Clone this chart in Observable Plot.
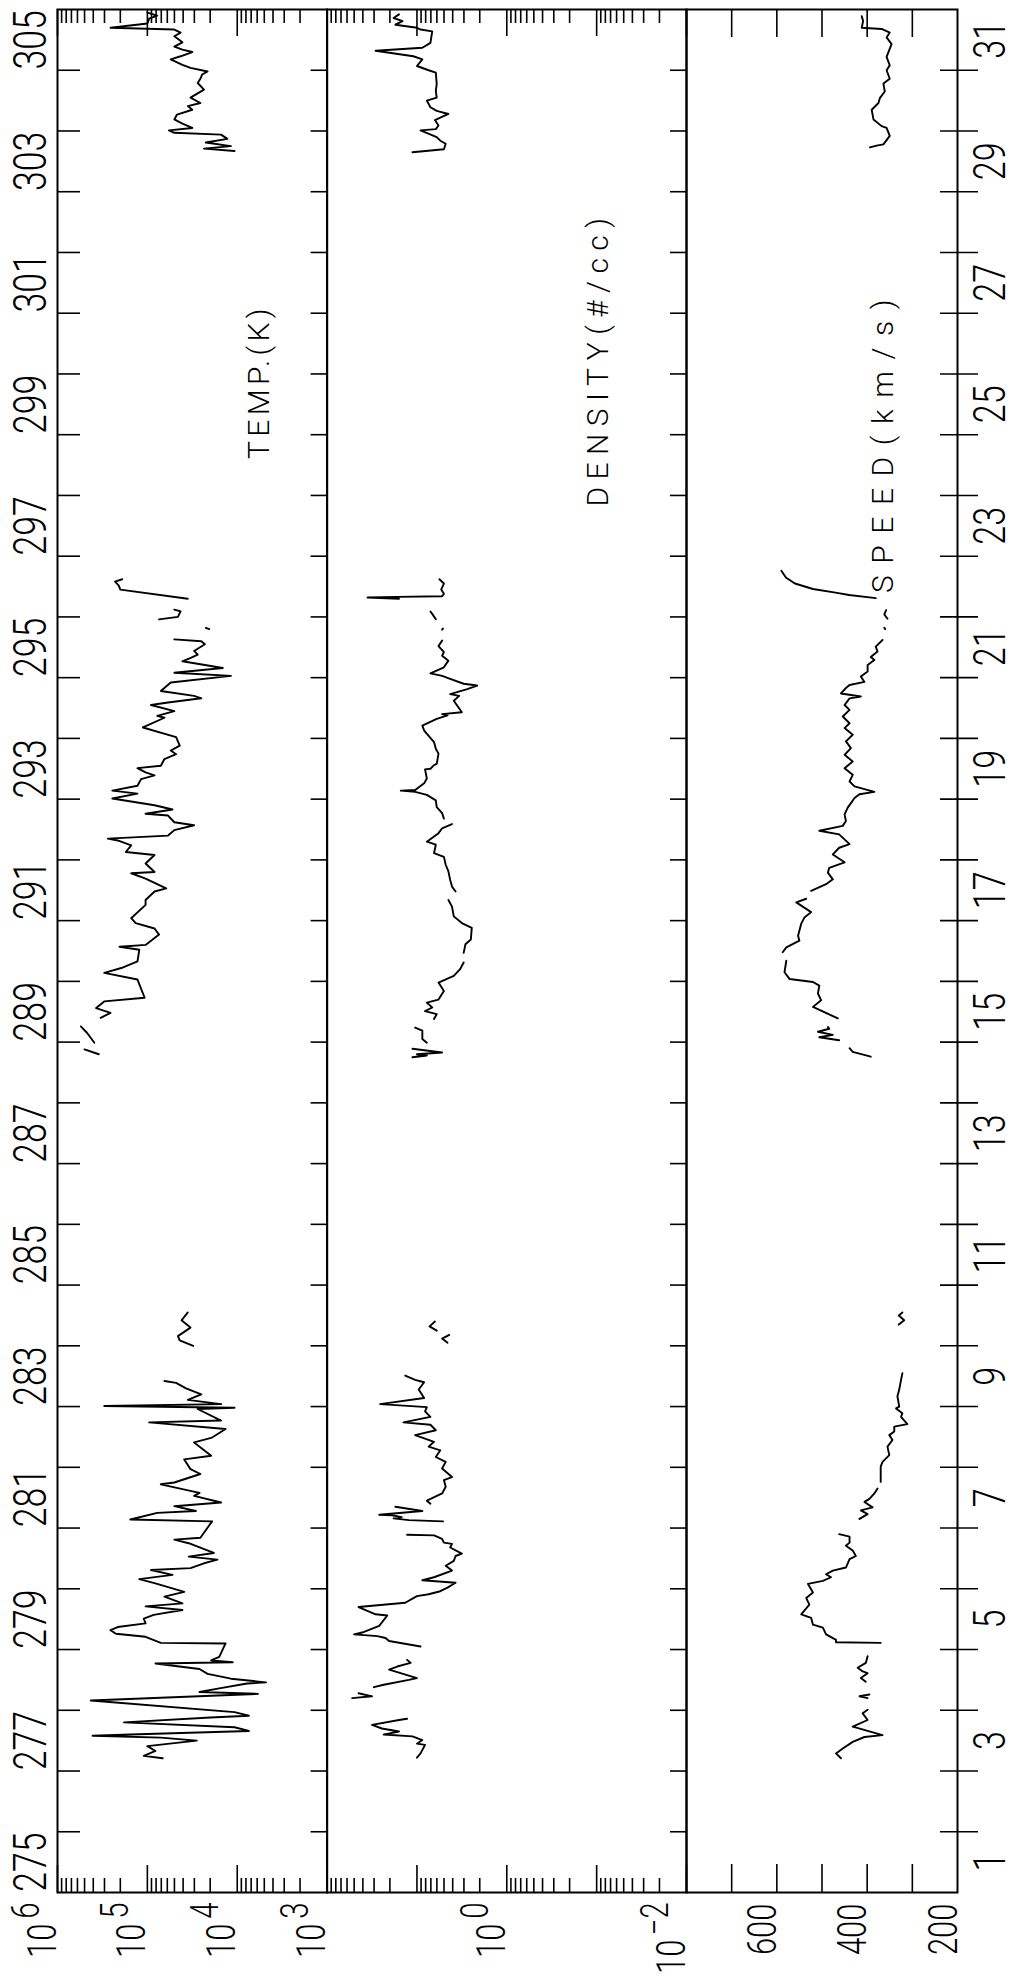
<!DOCTYPE html>
<html><head><meta charset="utf-8">
<script src="https://cdn.jsdelivr.net/npm/d3@7"></script>
<script src="https://cdn.jsdelivr.net/npm/@observablehq/plot@0.6"></script>
<style>
body{margin:0;background:#fff;}
#chart{position:relative;width:1017px;height:1978px;overflow:hidden;background:#fff;}
#chart svg{position:absolute;left:0;top:0;}
</style></head><body><div id="chart"></div>
<script>
// ---- tick & label arrays ----
const dayTicks = d3.range(276, 306);
const dayLabels = [275,277,279,281,283,285,287,289,291,293,295,297,299,301,303,305];
const monthDayLabels = [1,3,5,7,9,11,13,15,17,19,21,23,25,27,29,31];
const tempLabelValues = [1e6, 1e5, 1e4, 1e3];
const tempLabelExps = ["6", "5", "4", "3"];
const densLabelValues = [1, 0.01];
const densLabelExps = ["0", "\u22122"];
const speedTicks = [700, 600, 500, 400, 300];
const speedLabelValues = [600, 400, 200];
const panelTitles = ["TEMP.(K)", "DENSITY(#/cc)", "SPEED(km/s)"];

// ---- data: [day of year, value]; null = data gap ----
// temperature as log10(K)
const tempLog10 = [
[277.21,4.83],[277.25,5.04],[277.33,4.91],[277.41,5.00],[277.50,4.45],[277.55,4.85],[277.58,5.61],[277.60,5.19],[277.66,3.87],[277.72,4.03],[277.80,5.26],[277.88,4.30],[277.91,3.87],[277.97,4.03],[278.16,5.63],[278.27,3.77],[278.30,4.42],[278.36,4.20],[278.44,3.89],[278.46,3.68],[278.52,4.07],[278.60,4.33],[278.68,4.42],[278.77,4.91],[278.79,4.05],[278.82,4.29],[278.88,4.20],[279.10,4.13],[279.11,4.85],[279.21,5.02],[279.26,5.35],[279.32,5.41],[279.37,5.33],[279.43,5.02],[279.51,5.04],[279.57,4.93],[279.65,4.61],[279.71,5.02],[279.76,4.61],[279.87,4.81],[279.95,4.59],[280.09,4.91],[280.16,5.09],[280.23,4.72],[280.31,4.96],[280.34,4.52],[280.42,4.37],[280.48,4.22],[280.53,4.54],[280.59,4.26],[280.75,4.54],[280.81,4.70],[280.84,4.41],[281.11,4.28],[281.14,5.19],[281.25,4.89],[281.28,4.46],[281.36,4.70],[281.42,4.18],[281.53,4.48],[281.58,4.42],[281.72,4.85],[281.75,4.70],[281.89,4.41],[281.97,4.52],[282.13,4.59],[282.19,4.29],[282.41,4.48],[282.49,4.28],[282.63,4.13],[282.74,4.98],[282.77,4.18],[282.96,4.44],[282.98,4.03],[283.01,5.48],[283.04,4.18],[283.11,4.55],[283.20,4.40],[283.30,4.57],[283.39,4.68],[283.42,4.81],
null,
[284.00,4.49],[284.09,4.64],[284.16,4.66],[284.30,4.52],[284.42,4.62],[284.55,4.55],
null,
[288.80,5.54],[288.88,5.70],
null,
[288.99,5.59],[289.15,5.67],[289.26,5.74],
null,
[289.40,5.52],[289.48,5.41],[289.56,5.57],[289.67,5.48],[289.73,5.03],[290.03,5.11],[290.14,5.48],[290.22,5.29],[290.33,5.11],[290.52,5.09],[290.57,5.31],[290.60,5.02],[290.77,4.87],[290.87,4.92],[290.96,5.13],[291.04,5.18],[291.26,5.02],[291.34,5.02],[291.48,4.92],[291.53,4.79],[291.69,5.02],[291.78,5.18],[291.80,4.92],[291.94,5.02],[292.08,4.92],[292.13,5.24],[292.24,5.18],[292.32,5.33],[292.35,5.44],[292.40,4.77],[292.49,4.70],[292.57,4.48],[292.62,4.70],[292.73,4.77],[292.76,5.02],[292.83,4.72],[292.90,4.92],[293.01,5.39],[293.09,5.11],[293.14,5.39],[293.22,5.11],[293.33,5.07],[293.39,4.92],[293.44,5.02],[293.51,5.11],[293.55,4.85],[293.66,4.81],[293.74,4.68],[293.80,4.74],[293.88,4.64],[294.02,4.68],[294.18,5.05],[294.34,4.81],[294.37,4.89],[294.45,4.70],[294.55,4.96],[294.59,4.77],[294.66,4.40],[294.70,4.48],[294.78,4.85],[294.92,4.74],[295.03,4.07],[295.08,4.70],[295.16,4.16],[295.27,4.61],[295.33,4.51],[295.38,4.44],[295.44,4.48],[295.55,4.36],[295.60,4.40],[295.63,4.70],
null,
[295.80,4.31],[295.82,4.35],
null,
[295.96,4.87],[296.00,4.66],[296.09,4.63],[296.12,4.70],
null,
[296.30,4.55],[296.45,5.30],[296.52,5.32],[296.58,5.36],[296.62,5.28],
null,
[303.67,4.03],[303.71,4.37],[303.75,4.07],[303.81,4.35],[303.87,4.11],[303.94,4.18],[303.97,4.70],[304.01,4.76],[304.05,4.50],[304.12,4.61],[304.19,4.70],[304.27,4.67],[304.35,4.50],[304.41,4.55],[304.46,4.41],[304.55,4.52],[304.68,4.37],[304.79,4.44],[304.86,4.41],[304.93,4.39],[304.98,4.33],[305.04,4.52],[305.09,4.61],[305.18,4.74],[305.23,4.63],[305.30,4.50],[305.34,4.61],[305.39,4.70],[305.46,4.61],[305.56,4.70],[305.62,4.63],[305.67,4.70],[305.70,5.41],[305.77,5.00],[305.85,4.98],[305.90,4.89],[305.95,5.00]
];

// density as log10(#/cc)
const densLog10 = [
[277.22,1.00],[277.29,0.96],[277.43,0.91],[277.45,1.00],[277.51,0.94],[277.57,1.05],[277.60,1.37],[277.65,1.20],[277.70,1.39],[277.76,1.50],[277.84,1.20],[277.86,1.11],
null,
[278.20,1.72],[278.23,1.50],[278.28,1.65],
null,
[278.38,1.48],[278.42,1.37],[278.50,1.09],[278.53,1.00],[278.67,1.31],[278.72,1.22],[278.78,1.07],[278.83,1.11],
null,
[279.05,0.96],[279.14,1.31],[279.19,1.35],[279.22,1.44],[279.25,1.70],[279.28,1.61],[279.39,1.42],[279.56,1.33],[279.58,1.46],[279.70,1.65],[279.77,1.13],[279.88,1.00],[279.91,0.87],[279.96,0.74],[280.02,0.66],[280.10,0.57],[280.14,0.94],[280.19,0.81],[280.30,0.61],[280.38,0.68],[280.46,0.59],[280.54,0.57],[280.58,0.50],[280.68,0.63],[280.74,0.61],[280.76,0.70],[280.82,0.72],[280.88,0.81],[280.89,1.11],
null,
[281.11,0.71],[281.13,1.09],[281.16,1.26],[281.18,1.17],[281.21,1.28],[281.22,1.42],[281.28,0.94],[281.35,1.24],
null,
[281.40,0.85],[281.45,0.89],[281.57,0.72],[281.68,0.68],[281.79,0.70],[281.84,0.61],[281.98,0.72],[282.09,0.68],[282.17,0.79],[282.28,0.74],[282.34,0.87],[282.42,0.81],[282.53,1.02],[282.61,0.79],[282.70,0.85],[282.74,1.15],[282.83,0.85],[282.92,0.91],[282.99,0.89],[283.04,1.41],[283.14,0.92],[283.28,0.98],[283.40,0.92],[283.44,1.02],[283.51,1.13],
null,
[284.05,0.66],[284.12,0.72],[284.18,0.64],
null,
[284.25,0.78],[284.32,0.86],[284.40,0.80],
null,
[288.75,1.05],[288.78,0.89],[288.80,1.00],[288.83,0.72],[288.89,1.05],
null,
[288.99,0.89],[289.05,0.94],[289.19,0.94],[289.24,1.02],
null,
[289.38,0.81],[289.46,0.78],[289.51,0.91],[289.57,0.83],[289.65,0.89],[289.70,0.76],[289.84,0.70],[289.98,0.76],[290.09,0.59],[290.20,0.52],[290.31,0.48],
null,
[290.47,0.48],[290.61,0.46],[290.69,0.40],[290.88,0.39],[290.96,0.50],[291.07,0.59],[291.23,0.61],[291.34,0.65],
null,
[291.48,0.57],[291.56,0.61],[291.67,0.63],[291.81,0.65],[291.92,0.68],[292.05,0.70],[292.11,0.81],[292.25,0.79],[292.30,0.89],[292.44,0.76],[292.52,0.72],[292.59,0.61],
null,
[292.68,0.70],[292.77,0.72],[292.87,0.78],[292.98,0.79],[293.07,0.89],[293.12,1.02],[293.14,1.18],[293.15,1.02],[293.26,0.92],[293.34,0.89],[293.49,0.91],[293.50,0.85],[293.56,0.81],[293.58,0.78],[293.75,0.76],[293.83,0.79],[293.94,0.81],[294.13,0.92],[294.21,0.94],[294.32,0.78],[294.38,0.66],[294.40,0.72],[294.43,0.50],[294.62,0.59],[294.70,0.53],[294.73,0.63],[294.81,0.44],[294.87,0.33],[294.90,0.48],[294.98,0.63],[295.03,0.72],[295.07,0.85],[295.17,0.70],[295.28,0.65],[295.36,0.72],[295.42,0.70],[295.52,0.76],[295.61,0.72],
null,
[295.79,0.72],[295.81,0.71],
null,
[295.96,0.79],[296.05,0.83],[296.09,0.85],
null,
[296.30,1.20],[296.32,1.55],[296.33,1.22],[296.34,0.72],[296.38,0.70],[296.45,0.73],[296.55,0.70],[296.62,0.75],
null,
[303.65,1.05],[303.70,0.70],[303.79,0.68],[303.84,0.74],[303.90,0.78],[304.01,0.96],[304.03,0.79],[304.09,0.76],[304.18,0.80],[304.28,0.65],[304.33,0.78],[304.39,0.85],[304.50,0.89],[304.55,0.78],[304.66,0.79],[304.77,0.78],[304.96,0.79],[305.00,0.87],[305.07,1.00],[305.18,0.94],[305.23,1.04],[305.32,1.46],[305.37,0.94],[305.45,0.85],[305.64,0.83],[305.67,0.96],[305.70,1.00],[305.75,1.24],[305.81,1.16],[305.86,1.26],[305.92,1.20]
];

// bulk speed, km/s
const speedKms = [
[277.21,458],[277.29,469],[277.37,454],[277.48,432],[277.56,406],[277.59,366],[277.73,432],[277.84,399],[277.95,410],[278.01,399],
null,
[278.20,399],[278.23,417],[278.26,395],
null,
[278.47,403],[278.53,414],[278.61,399],[278.64,410],[278.70,421],[278.78,403],[278.89,399],
null,
[279.11,370],[279.12,469],[279.16,469],[279.25,491],[279.36,498],[279.41,520],[279.52,524],[279.58,546],[279.74,528],[279.85,535],[279.94,520],[280.08,531],[280.13,498],[280.19,480],[280.24,491],[280.30,476],[280.35,447],[280.49,439],[280.54,425],[280.63,432],[280.71,447],[280.76,439],[280.86,439],[280.90,462],
null,
[281.15,417],[281.23,399],[281.29,414],[281.34,388],[281.43,406],[281.48,395],[281.57,384],[281.65,377],
null,
[281.76,370],[282.01,370],[282.09,366],[282.20,351],[282.34,355],[282.45,344],[282.53,351],[282.59,340],[282.67,340],[282.71,311],[282.83,325],[282.89,322],[282.97,336],[283.00,329],[283.17,333],[283.28,329],[283.44,325],[283.55,322],
null,
[284.35,330],[284.42,318],[284.50,330],[284.55,322],
null,
[288.76,392],[288.84,432],[288.90,439],
null,
[289.03,462],[289.08,506],[289.12,476],[289.17,509],[289.22,484],[289.25,487],
null,
[289.39,465],[289.58,520],[289.69,502],[289.80,509],[289.93,506],[289.99,520],[290.04,572],[290.15,583],[290.34,579],
null,
[290.48,587],[290.56,579],[290.67,550],[290.75,553],[290.95,546],[291.05,539],[291.14,524],[291.30,557],[291.36,535],
null,
[291.49,524],[291.60,491],[291.68,476],[291.79,487],[291.87,484],[291.96,450],[292.09,476],[292.20,462],[292.26,439],[292.42,462],[292.48,506],[292.56,454],[292.64,447],[292.75,450],[292.86,443],[293.02,428],[293.08,417],[293.12,384],[293.21,428],[293.29,439],[293.40,432],[293.51,450],[293.62,432],[293.73,450],[293.84,436],[293.95,447],[294.06,432],[294.17,450],[294.25,439],[294.36,454],[294.47,439],[294.55,450],[294.66,439],[294.69,414],[294.74,458],[294.83,447],[294.88,439],[294.93,406],[295.02,414],[295.10,399],[295.21,399],[295.29,384],[295.34,392],[295.43,377],[295.51,381],[295.62,366],
null,
[295.80,360],[295.82,362],
null,
[295.97,355],[296.04,362],[296.11,358],
null,
[296.31,381],[296.36,440],[296.40,470],[296.46,520],[296.55,560],[296.65,580],[296.76,590],
null,
[303.73,394],[303.76,379],[303.78,364],[303.92,350],[304.05,357],[304.08,368],[304.19,386],[304.35,390],[304.46,375],[304.54,372],[304.65,361],[304.78,364],[304.86,350],[305.00,357],[305.08,350],[305.22,357],[305.43,346],[305.54,357],[305.62,350],[305.68,368],[305.70,412],[305.81,409],[305.89,412]
];

// ---- build tables ----
function rows(pairs, f = v => v) {
  const out = []; let seg = 0;
  for (const p of pairs) {
    if (p === null) { seg++; continue; }
    out.push({day: p[0], value: f(p[1]), seg});
  }
  return out;
}
const tempRows = rows(tempLog10, v => Math.pow(10, v));
const densRows = rows(densLog10, v => Math.pow(10, v));
const speedRows = rows(speedKms);

const isPow10 = d => Math.abs(Math.log10(d) - Math.round(Math.log10(d))) < 1e-6;
const tempAll = d3.scaleLog().domain([1e3, 1e6]).ticks();
const densAll = d3.scaleLog().domain([1e-2, 1e2]).ticks();

// ---- layout ----
const W = 1017, H = 1978, MT = 9, MB = 86;
const FH = H - MT - MB;
const FONT = "Roboto, 'DejaVu Sans', sans-serif";
const X0 = 57, X1 = 326.6, X2 = 686, X3 = 957;

function base(marginLeft, marginRight, x, marks) {
  return Plot.plot({
    width: W, height: H, marginTop: MT, marginBottom: MB, marginLeft, marginRight,
    x: {...x, axis: null},
    y: {domain: [275, 306], axis: null},
    style: {background: "transparent", overflow: "visible", fontFamily: FONT},
    marks
  });
}
const tickOpts = {stroke: "#000", strokeWidth: 1.6};
function valueTicks(values, len) {
  return [
    Plot.tickX(values, {x: d => d, insetTop: FH - len, ...tickOpts}),
    Plot.tickX(values, {x: d => d, insetBottom: FH - len, ...tickOpts})
  ];
}
const lineOpts = {x: "value", y: "day", z: "seg", stroke: "#000", strokeWidth: 1.9, strokeLinejoin: "round", strokeLinecap: "round"};
const txt = {rotate: -90, fill: "#000", fontWeight: 300};

function powLabels(values, exps) {
  const marks = [];
  values.forEach((v, i) => {
    const n = exps[i].length;
    marks.push(Plot.text([v], {x: d => d, text: () => exps[i], frameAnchor: "bottom", textAnchor: "end", lineAnchor: "bottom", dy: 10, dx: -19, fontSize: 38, ...txt}));
    marks.push(Plot.text([v], {x: d => d, text: () => "10", frameAnchor: "bottom", textAnchor: "end", lineAnchor: "bottom", dy: 10 + n * 16 + 5, dx: -2, fontSize: 40, ...txt}));
  });
  return marks;
}

// Temperature panel
const tempPlot = base(X0, W - X1, {type: "log", domain: [1e6, 1e3]}, [
  Plot.frame({stroke: "#000", strokeWidth: 2}),
  ...valueTicks(tempAll.filter(isPow10), 27),
  ...valueTicks(tempAll.filter(d => !isPow10(d)), 14),
  Plot.tickY(dayTicks, {y: d => d, insetRight: (X1 - X0) - 23, ...tickOpts}),
  Plot.tickY(dayTicks, {y: d => d, insetLeft: (X1 - X0) - 16, ...tickOpts}),
  Plot.line(tempRows, lineOpts),
  Plot.text(dayLabels, {y: d => d + 0.5, text: d => `${d}`, frameAnchor: "left", textAnchor: "middle", lineAnchor: "bottom", dx: -12, fontSize: 46, ...txt}),
  ...powLabels(tempLabelValues, tempLabelExps),
  Plot.text([panelTitles[0]], {frameAnchor: "top-left", dx: 202, dy: 372, textAnchor: "middle", lineAnchor: "middle", fontSize: 30, ...txt})
]);

// Density panel
const densPlot = base(X1, W - X2, {type: "log", domain: [1e2, 1e-2]}, [
  Plot.frame({stroke: "#000", strokeWidth: 2}),
  ...valueTicks(densAll.filter(isPow10), 27),
  ...valueTicks(densAll.filter(d => !isPow10(d)), 14),
  Plot.tickY(dayTicks, {y: d => d, insetLeft: (X2 - X1) - 16, ...tickOpts}),
  Plot.line(densRows, lineOpts),
  ...powLabels(densLabelValues, densLabelExps),
  Plot.text([panelTitles[1]], {frameAnchor: "top-left", dx: 271, dy: 349, textAnchor: "middle", lineAnchor: "middle", fontSize: 30, ...txt})
]);

// Speed panel
const speedPlot = base(X2, W - X3, {type: "linear", domain: [800, 200]}, [
  Plot.frame({stroke: "#000", strokeWidth: 2}),
  ...valueTicks(speedTicks, 28),
  Plot.tickY(dayTicks, {y: d => d, insetLeft: (X3 - X2) - 17, insetRight: -21, ...tickOpts}),
  Plot.line(speedRows, lineOpts),
  Plot.text(monthDayLabels, {y: (d, i) => dayLabels[i] + 0.5, text: d => `${d}`, frameAnchor: "right", textAnchor: "middle", lineAnchor: "bottom", dx: 47, fontSize: 44, ...txt}),
  Plot.text(speedLabelValues, {x: d => d, text: d => `${d}`, frameAnchor: "bottom", textAnchor: "end", lineAnchor: "bottom", dy: 11, dx: -1, fontSize: 40, ...txt}),
  Plot.text([panelTitles[2]], {frameAnchor: "top-left", dx: 197, dy: 431, textAnchor: "middle", lineAnchor: "middle", fontSize: 30, ...txt})
]);

// condense digit labels like the plotter font (scale along the reading direction);
// spread the panel titles with letter-spacing
const titleLen = {"TEMP.(K)": 155, "DENSITY(#/cc)": 296, "SPEED(km/s)": 305};
const chart = document.getElementById("chart");
for (const p of [tempPlot, densPlot, speedPlot]) chart.appendChild(p);
for (const p of [tempPlot, densPlot, speedPlot]) {
  d3.select(p).selectAll("text").each(function () {
    const g = this.closest("g");
    const fs = +(g && g.getAttribute("font-size")) || 40;
    const t = this.textContent;
    const natural = this.getComputedTextLength();
    if (!natural) return;
    if (titleLen[t]) {
      const ls = (titleLen[t] - natural) / t.length;
      this.style.letterSpacing = `${ls}px`;
    } else {
      const k = (t.length * fs * 0.43) / natural;
      const tr = this.getAttribute("transform") || "";
      this.setAttribute("transform", `${tr} scale(${k},1)`);
    }
  });
}
</script>
</body></html>
